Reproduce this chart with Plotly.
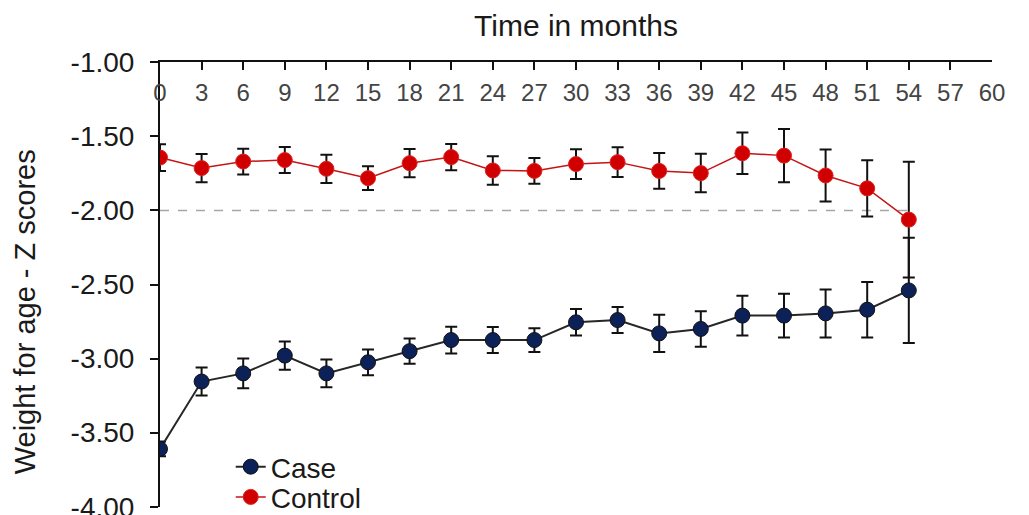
import plotly.graph_objects as go

months = [0, 3, 6, 9, 12, 15, 18, 21, 24, 27, 30, 33, 36, 39, 42, 45, 48, 51, 54]

case_mean = [-3.61, -3.155, -3.10, -2.98, -3.10, -3.025, -2.95, -2.875, -2.875, -2.875,
             -2.755, -2.74, -2.83, -2.80, -2.71, -2.71, -2.695, -2.67, -2.54]
case_err = [0.05, 0.094, 0.10, 0.096, 0.093, 0.087, 0.085, 0.09, 0.088, 0.08,
            0.09, 0.088, 0.126, 0.12, 0.134, 0.148, 0.162, 0.187, 0.355]

control_mean = [-1.643, -1.714, -1.67, -1.66, -1.719, -1.782, -1.681, -1.64, -1.73, -1.733,
                -1.687, -1.674, -1.733, -1.748, -1.614, -1.63, -1.764, -1.851, -2.062]
control_err = [0.09, 0.095, 0.087, 0.088, 0.095, 0.08, 0.095, 0.088, 0.096, 0.087,
               0.10, 0.10, 0.12, 0.13, 0.14, 0.18, 0.175, 0.19, 0.39]

x_ticks = list(range(0, 61, 3))
y_ticks = [-1.0, -1.5, -2.0, -2.5, -3.0, -3.5, -4.0]
y_tick_text = ["-1.00", "-1.50", "-2.00", "-2.50", "-3.00", "-3.50", "-4.00"]
reference_line = -2.0

FONT = "Liberation Sans, Arial, sans-serif"

fig = go.Figure()

fig.add_trace(go.Scatter(
    x=months, y=case_mean, name="Case", mode="lines+markers", legend="legend",
    line=dict(color="#262626", width=2),
    marker=dict(size=15, color="#0c2158", line=dict(color="#111111", width=1)),
    error_y=dict(type="data", array=case_err, color="#111111", thickness=2, width=6),
))
fig.add_trace(go.Scatter(
    x=months, y=control_mean, name="Control", mode="lines+markers", legend="legend2",
    line=dict(color="#c41414", width=1.5),
    marker=dict(size=15, color="#d10000", line=dict(color="#e02020", width=1)),
    error_y=dict(type="data", array=control_err, color="#111111", thickness=2, width=6),
))

fig.add_shape(type="line", xref="x", yref="y", x0=months[0], x1=months[-1],
              y0=reference_line, y1=reference_line,
              line=dict(color="#a6a6a6", width=1.5, dash="dash"), layer="below")

fig.add_annotation(text="Weight for age - Z scores", textangle=-90,
                   xref="paper", yref="paper", x=-0.162, y=0.438,
                   xanchor="center", yanchor="middle", showarrow=False,
                   font=dict(size=29, family=FONT, color="#1a1a1a"))

legend_style = dict(xanchor="left", yanchor="middle", bgcolor="rgba(0,0,0,0)",
                    font=dict(size=28, family=FONT, color="#1a1a1a"))

fig.update_layout(
    width=1029, height=515,
    margin=dict(l=160, r=37, t=62, b=8, autoexpand=False),
    paper_bgcolor="white", plot_bgcolor="white",
    font=dict(family=FONT, size=24, color="#1a1a1a"),
    showlegend=True,
    legend=dict(x=0.085, y=0.09, **legend_style),
    legend2=dict(x=0.085, y=0.022, **legend_style),
    xaxis=dict(
        side="top", range=[0, 60], tickvals=x_ticks,
        ticks="inside", ticklen=8, tickwidth=1.5, tickcolor="#111",
        ticklabelposition="inside", ticklabeloverflow="allow",
        ticklabelstandoff=16, automargin=False,
        showline=True, linecolor="#111", linewidth=2,
        showgrid=False, zeroline=False,
        tickfont=dict(size=24, family=FONT),
        title=dict(text="Time in months", font=dict(size=30, family=FONT), standoff=34),
    ),
    yaxis=dict(
        range=[-4.002, -0.998], tickvals=y_ticks, ticktext=y_tick_text,
        ticks="outside", ticklen=8, tickwidth=1.5, tickcolor="#111",
        ticklabeloverflow="allow",
        showline=True, linecolor="#111", linewidth=2,
        showgrid=False, zeroline=False, automargin=False,
        tickfont=dict(size=28, family=FONT),
        ticklabelstandoff=10,
    ),
)

fig.write_html("out.html")
